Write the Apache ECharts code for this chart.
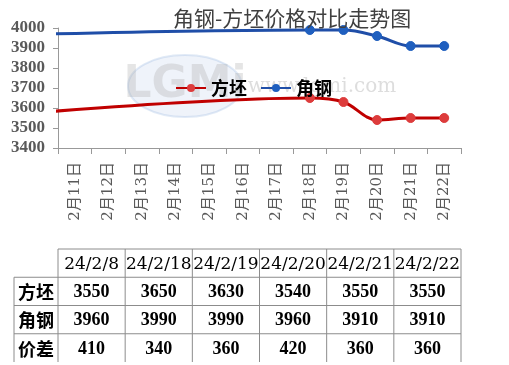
<!DOCTYPE html>
<html><head><meta charset="utf-8">
<script src="https://cdn.jsdelivr.net/npm/echarts@6/dist/echarts.min.js"></script>
<style>html,body{margin:0;padding:0;background:#fff}#c{width:509px;height:365px}</style>
</head><body><div id="c"></div>
<script>
// ---- data ----
const categories = ['2月8日','2月9日','2月10日','2月11日','2月12日','2月13日','2月14日','2月15日','2月16日','2月17日','2月18日','2月19日','2月20日','2月21日','2月22日'];
const firstShownCategory = '2月11日';
const pointDates = ['2月8日','2月18日','2月19日','2月20日','2月21日','2月22日'];
const tableDates = ['24/2/8','24/2/18','24/2/19','24/2/20','24/2/21','24/2/22'];
const billet = [3550, 3650, 3630, 3540, 3550, 3550];   // 方坯
const angleSteel = [3960, 3990, 3990, 3960, 3910, 3910]; // 角钢
const spread = [410, 340, 360, 420, 360, 360];          // 价差
const seriesNames = ['方坯', '角钢'];
const rowNames = ['方坯', '角钢', '价差'];
const yMin = 3400, yMax = 4000, yStep = 100;
const titleText = '角钢-方坯价格对比走势图';

// ---- layout ----
const W = 509, H = 365;
const gridL = 58, gridR = 461, gridT = 28, gridB = 148;
const tblTop = 249, rowH = 28.25, labelColL = 14;
const serif = "'Liberation Serif', 'Noto Sans CJK SC', serif";
const cjk = "'Noto Sans CJK SC', sans-serif";

const chart = echarts.init(document.getElementById('c'));

// table graphic
const g = [];
const nCols = tableDates.length;
const colW = (gridR - gridL) / nCols;
const rows = [billet, angleSteel, spread];
const lineStyle = { stroke: '#8c8c8c', lineWidth: 1 };
const hl = (x1, y, x2) => g.push({ type: 'line', shape: { x1: x1, y1: y, x2: x2, y2: y }, style: lineStyle, silent: true });
const vl = (x, y1, y2) => g.push({ type: 'line', shape: { x1: x, y1: y1, x2: x, y2: y2 }, style: lineStyle, silent: true });
hl(gridL, tblTop, gridR);
for (let r = 1; r <= rows.length; r++) hl(labelColL, tblTop + r * rowH, gridR);
vl(labelColL, tblTop + rowH, tblTop + (rows.length + 1) * rowH);
for (let c = 0; c <= nCols; c++) vl(gridL + c * colW, tblTop, tblTop + (rows.length + 1) * rowH);
tableDates.forEach((d, c) => {
  g.push({ type: 'text', x: gridL + (c + 0.5) * colW, y: tblTop + rowH / 2 + 1, silent: true,
    style: { text: d, align: 'center', verticalAlign: 'middle', font: "17px 'DejaVu Serif', serif", fill: '#000' } });
});
rowNames.forEach((n, r) => {
  const cy = tblTop + (r + 1.5) * rowH + 1;
  g.push({ type: 'text', x: (labelColL + gridL) / 2, y: cy, silent: true,
    style: { text: n, align: 'center', verticalAlign: 'middle', font: "bold 18px " + cjk, fill: '#000' } });
  rows[r].forEach((v, c) => {
    g.push({ type: 'text', x: gridL + (c + 0.5) * colW, y: cy, silent: true,
      style: { text: String(v), align: 'center', verticalAlign: 'middle', font: "bold 18px " + serif, fill: '#000' } });
  });
});
// faint watermark
g.push({ type: 'ellipse', shape: { cx: 185, cy: 86, rx: 57, ry: 31 }, z: -10, silent: true,
  style: { fill: 'rgba(120,160,215,0.12)', stroke: 'rgba(120,160,215,0.22)', lineWidth: 2 } });
g.push({ type: 'text', x: 185, y: 86, z: -9, silent: true,
  style: { text: 'LGMi', align: 'center', verticalAlign: 'middle', font: "bold 44px 'DejaVu Sans', sans-serif", fill: 'rgba(170,170,170,0.3)' } });
g.push({ type: 'text', x: 322, y: 87, z: -9, silent: true,
  style: { text: 'www.lgmi.com', align: 'center', verticalAlign: 'middle', font: "20px 'DejaVu Serif', serif", fill: 'rgba(180,180,180,0.45)' } });

const option = {
  animation: false,
  backgroundColor: '#fff',
  title: { text: titleText, left: 168, top: 3,
    textStyle: { fontFamily: cjk, fontSize: 21, fontWeight: 'normal', color: '#404040' } },
  legend: { data: seriesNames, left: 170, top: 74, itemWidth: 30, itemHeight: 10, itemGap: 13,
    textStyle: { fontFamily: cjk, fontSize: 18, fontWeight: 'bold', color: '#000', padding: [0, 0, 0, 0] } },
  grid: { left: gridL, right: W - gridR, top: gridT, bottom: H - gridB, containLabel: false },
  xAxis: {
    type: 'category', data: categories, min: categories.indexOf(firstShownCategory), boundaryGap: true,
    axisLine: { show: true, lineStyle: { color: '#999', width: 1 } },
    axisTick: { show: true, length: 6, lineStyle: { color: '#999' } },
    axisLabel: { rotate: 90, interval: 0, margin: 14, fontFamily: "'DejaVu Serif', 'Noto Sans CJK SC', serif", fontSize: 15, color: '#595959' },
    splitLine: { show: false }
  },
  yAxis: {
    type: 'value', min: yMin, max: yMax, interval: yStep,
    axisLine: { show: true, lineStyle: { color: '#999', width: 1 } },
    axisTick: { show: true, length: 5, lineStyle: { color: '#999' } },
    axisLabel: { margin: 13, fontFamily: serif, fontSize: 17, fontWeight: 'bold', color: '#595959',
      formatter: v => String(v) },
    splitLine: { show: false }
  },
  series: [
    { name: seriesNames[0], type: 'line', smooth: 0.35, clip: true,
      data: pointDates.map((d, i) => [d, billet[i]]),
      symbol: 'circle', symbolSize: 9,
      lineStyle: { color: '#c00000', width: 3 },
      itemStyle: { color: '#dd3c3c', borderColor: '#dd3c3c' } },
    { name: seriesNames[1], type: 'line', smooth: 0.35, clip: true,
      data: pointDates.map((d, i) => [d, angleSteel[i]]),
      symbol: 'circle', symbolSize: 9,
      lineStyle: { color: '#1f4ea8', width: 3 },
      itemStyle: { color: '#1f5fbf', borderColor: '#1f5fbf' } }
  ],
  graphic: g
};
chart.setOption(option);
</script></body></html>
